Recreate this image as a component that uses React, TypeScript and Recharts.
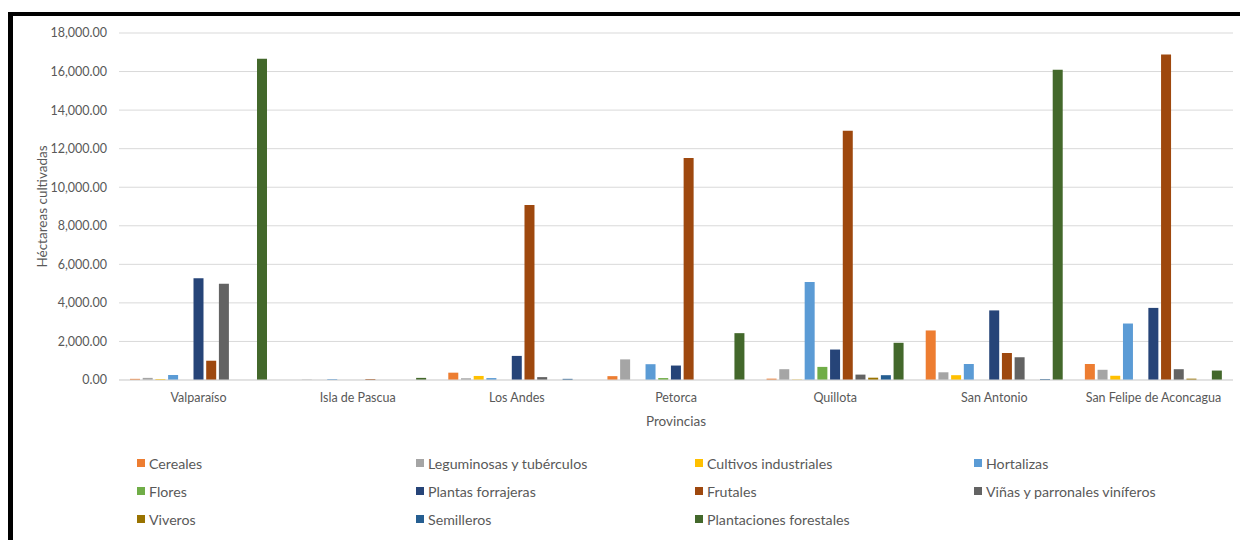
import { BarChart, Bar, XAxis, YAxis, CartesianGrid } from "recharts"

// Hectáreas cultivadas por provincia, Región de Valparaíso
const provincias = [
    "Valparaíso",
    "Isla de Pascua",
    "Los Andes",
    "Petorca",
    "Quillota",
    "San Antonio",
    "San Felipe de Aconcagua",
]

const cereales = [60, 0, 380, 200, 70, 2570, 830]
const leguminosas = [110, 20, 90, 1070, 560, 400, 530]
const cultivosIndustriales = [50, 0, 210, 0, 20, 250, 220]
const hortalizas = [260, 50, 100, 820, 5080, 830, 2930]
const flores = [0, 0, 0, 100, 680, 0, 0]
const plantasForrajeras = [5280, 0, 1250, 750, 1580, 3610, 3740]
const frutales = [1000, 50, 9080, 11510, 12930, 1400, 16880]
const vinas = [4990, 0, 150, 0, 280, 1180, 560]
const viveros = [0, 0, 0, 0, 120, 0, 70]
const semilleros = [0, 0, 60, 0, 250, 50, 0]
const plantaciones = [16670, 110, 0, 2430, 1930, 16100, 490]

const yTicks = [0, 2000, 4000, 6000, 8000, 10000, 12000, 14000, 16000, 18000]

const series = [
    { key: "cereales", name: "Cereales", color: "#ED7D31", values: cereales },
    { key: "leguminosas", name: "Leguminosas y tubérculos", color: "#A5A5A5", values: leguminosas },
    { key: "industriales", name: "Cultivos industriales", color: "#FFC000", values: cultivosIndustriales },
    { key: "hortalizas", name: "Hortalizas", color: "#5B9BD5", values: hortalizas },
    { key: "flores", name: "Flores", color: "#70AD47", values: flores },
    { key: "forrajeras", name: "Plantas forrajeras", color: "#264478", values: plantasForrajeras },
    { key: "frutales", name: "Frutales", color: "#9E480E", values: frutales },
    { key: "vinas", name: "Viñas y parronales viníferos", color: "#636363", values: vinas },
    { key: "viveros", name: "Viveros", color: "#997300", values: viveros },
    { key: "semilleros", name: "Semilleros", color: "#255E91", values: semilleros },
    { key: "forestales", name: "Plantaciones forestales", color: "#43682B", values: plantaciones },
]

const data = provincias.map((provincia, i) => {
    const row: Record<string, string | number> = { provincia }
    series.forEach(s => {
        row[s.key] = s.values[i]
    })
    return row
})

const FONT = "Lato, 'Open Sans', sans-serif"
const TEXT = "#595959"
const GRID = "#d9d9d9"

// posiciones de las columnas y filas de la leyenda
const legendCols = [137, 416, 695, 974]
const legendRows = [463, 491, 519]

function formatTick(v: number): string {
    return v.toLocaleString("en-US", { minimumFractionDigits: 2, maximumFractionDigits: 2 })
}

function LegendBlock() {
    return (
        <div>
            {series.map((s, i) => {
                const col = i % 4
                const row = Math.floor(i / 4)
                return (
                    <div
                        key={s.key}
                        style={{
                            position: "absolute",
                            left: legendCols[col],
                            top: legendRows[row] - 9,
                            height: 18,
                            display: "flex",
                            alignItems: "center",
                            fontFamily: FONT,
                            fontSize: 14.2,
                            color: TEXT,
                            whiteSpace: "nowrap",
                        }}
                    >
                        <span
                            style={{
                                display: "inline-block",
                                width: 8,
                                height: 8,
                                background: s.color,
                                marginRight: 4,
                            }}
                        />
                        {s.name}
                    </div>
                )
            })}
        </div>
    )
}

export default function App() {
    return (
        <div style={{ position: "absolute", left: 0, top: 0, width: 1240, height: 540, background: "#fff", overflow: "hidden" }}>
            <div
                style={{
                    position: "absolute",
                    left: 8,
                    top: 12,
                    width: 1240,
                    height: 540,
                    borderTop: "4px solid #000",
                    borderLeft: "5px solid #000",
                }}
            />
            <BarChart
                width={1240}
                height={540}
                data={data}
                margin={{ top: 33, right: 7, left: 59, bottom: 110 }}
                barCategoryGap={11}
                barGap={2.7}
                style={{ position: "absolute", left: 0, top: 0 }}
            >
                <CartesianGrid vertical={false} stroke={GRID} strokeWidth={1} />
                <XAxis
                    dataKey="provincia"
                    height={50}
                    tickLine={false}
                    tickSize={0}
                    tickMargin={13}
                    axisLine={{ stroke: GRID }}
                    tick={{ fontSize: 12.5, fill: TEXT, fontFamily: FONT }}
                    interval={0}
                    label={{
                        value: "Provincias",
                        position: "insideBottom",
                        offset: 4,
                        fontSize: 13.5,
                        fill: TEXT,
                        fontFamily: FONT,
                    }}
                />
                <YAxis
                    width={60}
                    domain={[0, 18000]}
                    ticks={yTicks}
                    tickFormatter={formatTick}
                    axisLine={false}
                    tickLine={false}
                    tickSize={0}
                    tickMargin={12}
                    tick={{ fontSize: 12.5, fill: TEXT, fontFamily: FONT }}
                    label={{
                        value: "Héctareas cultivadas",
                        angle: -90,
                        position: "left",
                        offset: 17,
                        style: { textAnchor: "middle" },
                        fontSize: 13.5,
                        fill: TEXT,
                        fontFamily: FONT,
                    }}
                />
                {series.map(s => (
                    <Bar
                        key={s.key}
                        dataKey={s.key}
                        name={s.name}
                        fill={s.color}
                        isAnimationActive={false}
                    />
                ))}
            </BarChart>
            <LegendBlock />
        </div>
    )
}
